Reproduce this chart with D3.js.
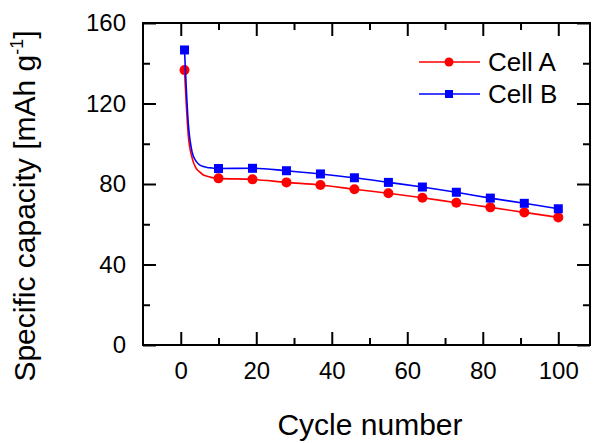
<!DOCTYPE html>
<html>
<head>
<meta charset="utf-8">
<script src="https://cdn.jsdelivr.net/npm/d3@7"></script>
<style>
  body { margin: 0; background: #fff; }
  svg { font-family: "Liberation Sans", Arial, sans-serif; }
</style>
</head>
<body>
<div id="chart"></div>
<script>
// marker cycles (every 9th cycle)
var cycles = [1, 10, 19, 28, 37, 46, 55, 64, 73, 82, 91, 100];
var cellA = [136.6, 82.8, 82.3, 80.8, 79.5, 77.4, 75.4, 73.2, 70.7, 68.4, 65.9, 63.4];
var cellB = [146.6, 87.7, 87.8, 86.6, 85.0, 83.1, 80.8, 78.5, 75.9, 73.0, 70.4, 67.7];
var earlyCycles = [2, 3, 4, 5, 6, 7, 8, 9];
var earlyA = [104, 93, 88, 86, 84.5, 83.8, 83.3, 83];
var earlyB = [110, 96, 91.5, 89.5, 88.7, 88.2, 88, 87.8];

var xTicks = [0, 20, 40, 60, 80, 100];
var yTicks = [0, 40, 80, 120, 160];
var seriesNames = ['Cell A', 'Cell B'];
var seriesColors = ['#ff0000', '#0000ff'];

var width = 596, height = 443;
var svg = d3.select('#chart')
    .append('svg')
    .attr('width', width)
    .attr('height', height);

var x = d3.scaleLinear().domain([-10, 108.4]).range([143, 590]);
var y = d3.scaleLinear().domain([0, 160]).range([345, 23]);

function lineData(vals, early) {
    var pts = cycles.map(function(c, i) { return [c, vals[i]]; });
    earlyCycles.forEach(function(c, i) { pts.push([c, early[i]]); });
    pts.sort(function(a, b) { return a[0] - b[0]; });
    return pts;
}

var line = d3.line()
    .x(function(d) { return x(d[0]); })
    .y(function(d) { return y(d[1]); })
    .curve(d3.curveMonotoneX);

// axes: major + minor ticks, all pointing inward
function addAxis(axisFn, tr, scale, major, minor, labels) {
    var gMinor = svg.append('g')
        .attr('transform', tr)
        .call(axisFn(scale).tickValues(minor).tickSize(-7).tickFormat(''));
    var gMajor = svg.append('g')
        .attr('transform', tr)
        .call(axisFn(scale).tickValues(major).tickSize(-13).tickPadding(17)
            .tickFormat(labels ? d3.format('d') : ''));
    [gMinor, gMajor].forEach(function(g) {
        g.select('.domain').remove();
        g.selectAll('line').attr('stroke', '#000').attr('stroke-width', 2);
        g.selectAll('text').style('font-size', '24px').attr('fill', '#000');
    });
}
var xMinor = [10, 30, 50, 70, 90];
var yMinor = [20, 60, 100, 140];

addAxis(d3.axisBottom, 'translate(0,345)', x, xTicks, xMinor, true);
addAxis(d3.axisTop, 'translate(0,23)', x, xTicks, xMinor, false);
addAxis(d3.axisLeft, 'translate(143,0)', y, yTicks, yMinor, true);
addAxis(d3.axisRight, 'translate(590,0)', y, yTicks, yMinor, false);

svg.append('rect')
    .attr('x', 143).attr('y', 23)
    .attr('width', 590 - 143).attr('height', 345 - 23)
    .attr('fill', 'none')
    .attr('stroke', '#000')
    .attr('stroke-width', 2);

// series
var series = [
    { vals: cellA, early: earlyA, color: seriesColors[0], shape: 'circle' },
    { vals: cellB, early: earlyB, color: seriesColors[1], shape: 'square' }
];

series.forEach(function(s) {
    svg.append('path')
        .datum(lineData(s.vals, s.early))
        .attr('d', line)
        .attr('fill', 'none')
        .attr('stroke', s.color)
        .attr('stroke-width', 1.6);

    var pts = cycles.map(function(c, i) { return [c, s.vals[i]]; });
    if (s.shape === 'circle') {
        svg.append('g').selectAll('circle')
            .data(pts).enter().append('circle')
            .attr('cx', function(d) { return x(d[0]); })
            .attr('cy', function(d) { return y(d[1]); })
            .attr('r', 5)
            .attr('fill', s.color);
    } else {
        svg.append('g').selectAll('rect')
            .data(pts).enter().append('rect')
            .attr('x', function(d) { return x(d[0]) - 4.5; })
            .attr('y', function(d) { return y(d[1]) - 4.5; })
            .attr('width', 9)
            .attr('height', 9)
            .attr('fill', s.color);
    }
});

// legend
var legend = svg.append('g');
seriesNames.forEach(function(name, i) {
    var ly = 62 + i * 32;
    legend.append('line')
        .attr('x1', 419).attr('x2', 480)
        .attr('y1', ly).attr('y2', ly)
        .attr('stroke', seriesColors[i])
        .attr('stroke-width', 1.6);
    if (i === 0) {
        legend.append('circle')
            .attr('cx', 449).attr('cy', ly).attr('r', 4.5)
            .attr('fill', seriesColors[i]);
    } else {
        legend.append('rect')
            .attr('x', 445).attr('y', ly - 4).attr('width', 8).attr('height', 8)
            .attr('fill', seriesColors[i]);
    }
    legend.append('text')
        .attr('x', 488).attr('y', ly + 9)
        .style('font-size', '26px')
        .text(name);
});

// axis titles
svg.append('text')
    .attr('x', 370).attr('y', 435)
    .attr('text-anchor', 'middle')
    .style('font-size', '30px')
    .text('Cycle number');

var yTitle = svg.append('text')
    .attr('transform', 'translate(35,206) rotate(-90)')
    .attr('text-anchor', 'middle')
    .style('font-size', '30px');
yTitle.append('tspan').text('Specific capacity [mAh g');
yTitle.append('tspan').attr('dy', -12).style('font-size', '18px').text('-1');
yTitle.append('tspan').attr('dy', 12).text(']');
</script>
</body>
</html>
